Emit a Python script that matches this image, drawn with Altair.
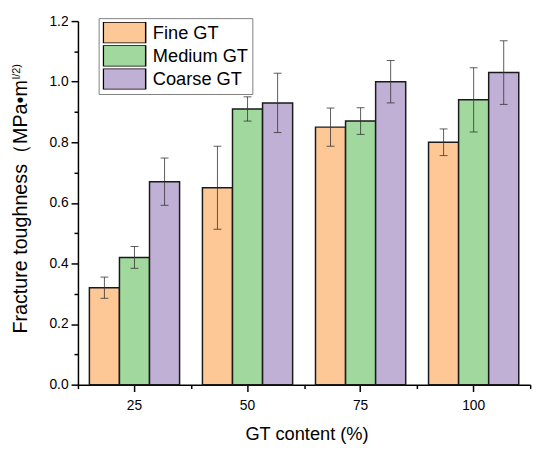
import altair as alt
import pandas as pd

categories = ["25", "50", "75", "100"]
series = ["Fine GT", "Medium GT", "Coarse GT"]
fine = [0.32, 0.65, 0.85, 0.80]
fine_err = [0.035, 0.137, 0.063, 0.044]
medium = [0.42, 0.91, 0.87, 0.94]
medium_err = [0.036, 0.040, 0.044, 0.106]
coarse = [0.67, 0.93, 1.00, 1.03]
coarse_err = [0.078, 0.098, 0.070, 0.105]
colors = ["#FDC896", "#A0D89E", "#C0B0D6"]

y_major = [0.0, 0.2, 0.4, 0.6, 0.8, 1.0, 1.2]
y_minor = [0.1, 0.3, 0.5, 0.7, 0.9, 1.1]
x_title = "GT content (%)"
y_title_main = "Fracture toughness（MPa•m"
y_title_sup = "l/2)"

FONT = "Liberation Sans"

rows = []
for s, vals, errs in zip(series, [fine, medium, coarse], [fine_err, medium_err, coarse_err]):
    for c, v, e in zip(categories, vals, errs):
        rows.append({"content": c, "size": s, "value": v, "lo": v - e, "hi": v + e})
df = pd.DataFrame(rows)

xscale = alt.Scale(domain=categories, paddingInner=0, paddingOuter=0)
xoff = alt.XOffset("size:N", sort=series,
                   scale=alt.Scale(domain=series, paddingInner=0, paddingOuter=0.38))
yscale = alt.Scale(domain=[0, 1.2], nice=False, zero=True)

bars = alt.Chart(df).mark_bar(stroke="#1a1a1a", strokeWidth=1.5).encode(
    x=alt.X("content:N", sort=categories, scale=xscale,
            axis=alt.Axis(orient="bottom", title=x_title, labelAngle=0,
                          labelFontSize=14, labelFont=FONT, labelColor="black",
                          labelPadding=7, tickSize=7, tickWidth=1.5, tickColor="black",
                          domainColor="black", domainWidth=1.5,
                          titleFontSize=18.5, titleFont=FONT, titleFontWeight="normal",
                          titleColor="black", titlePadding=13, titleX=232)),
    xOffset=xoff,
    y=alt.Y("value:Q", scale=yscale,
            axis=alt.Axis(orient="left", title=None, values=y_major, format=".1f",
                          labelFontSize=14, labelFont=FONT, labelColor="black",
                          labelPadding=3, tickSize=7, tickWidth=1.5, tickColor="black",
                          domainColor="black", domainWidth=1.5, grid=False)),
    fill=alt.Color("size:N", sort=series, scale=alt.Scale(domain=series, range=colors),
                   legend=alt.Legend(title=None, orient="none", legendX=21, legendY=-3,
                                     symbolType="M-1,-1L3,-1L3,1L-1,1Z",
                                     symbolSize=462, symbolStrokeColor="black",
                                     symbolStrokeWidth=1.5, symbolOpacity=1,
                                     labelFontSize=18.5, labelFont=FONT, labelColor="black",
                                     labelOffset=28, rowPadding=1.5, clipHeight=21.5,
                                     padding=4,
                                     strokeColor="#808080", fillColor="white")),
)

err = alt.Chart(df).mark_rule(color="#333333", opacity=0.8, strokeWidth=1).encode(
    x=alt.X("content:N", sort=categories, scale=xscale,
            axis=alt.Axis(orient="bottom", title=None, labels=False, domain=False,
                          tickBand="extent", tickSize=4, tickWidth=1.5, tickColor="black")),
    xOffset=xoff,
    y=alt.Y("lo:Q", scale=yscale,
            axis=alt.Axis(orient="left", title=None, labels=False, domain=False,
                          values=y_minor, tickSize=4, tickWidth=1.5, tickColor="black",
                          grid=False)),
    y2="hi:Q",
)

cap_top = alt.Chart(df).mark_tick(color="#333333", opacity=0.8, thickness=1, size=8).encode(
    x=alt.X("content:N", sort=categories, scale=xscale, axis=None),
    xOffset=xoff,
    y=alt.Y("hi:Q", scale=yscale, axis=None),
)
cap_bot = alt.Chart(df).mark_tick(color="#333333", opacity=0.8, thickness=1, size=8).encode(
    x=alt.X("content:N", sort=categories, scale=xscale, axis=None),
    xOffset=xoff,
    y=alt.Y("lo:Q", scale=yscale, axis=None),
)

t_main = alt.Chart(pd.DataFrame({"t": [y_title_main]})).mark_text(
    angle=270, align="right", baseline="alphabetic", fontSize=20, font=FONT, color="black"
).encode(text="t:N", x=alt.value(-52), y=alt.value(60))
t_sup = alt.Chart(pd.DataFrame({"t": [y_title_sup]})).mark_text(
    angle=270, align="left", baseline="alphabetic", fontSize=11, font=FONT, color="black"
).encode(text="t:N", x=alt.value(-59), y=alt.value(59))

chart = alt.layer(bars, err, cap_top, cap_bot, t_main, t_sup).resolve_axis(
    x="independent", y="independent"
).properties(
    width=459, height=369,
    autosize=alt.AutoSizeParams(type="none"),
    padding={"left": 71, "top": 10, "right": 12, "bottom": 60},
).configure_view(stroke=None)

chart.save("out.html", embed_options={"renderer": "svg", "actions": False})
